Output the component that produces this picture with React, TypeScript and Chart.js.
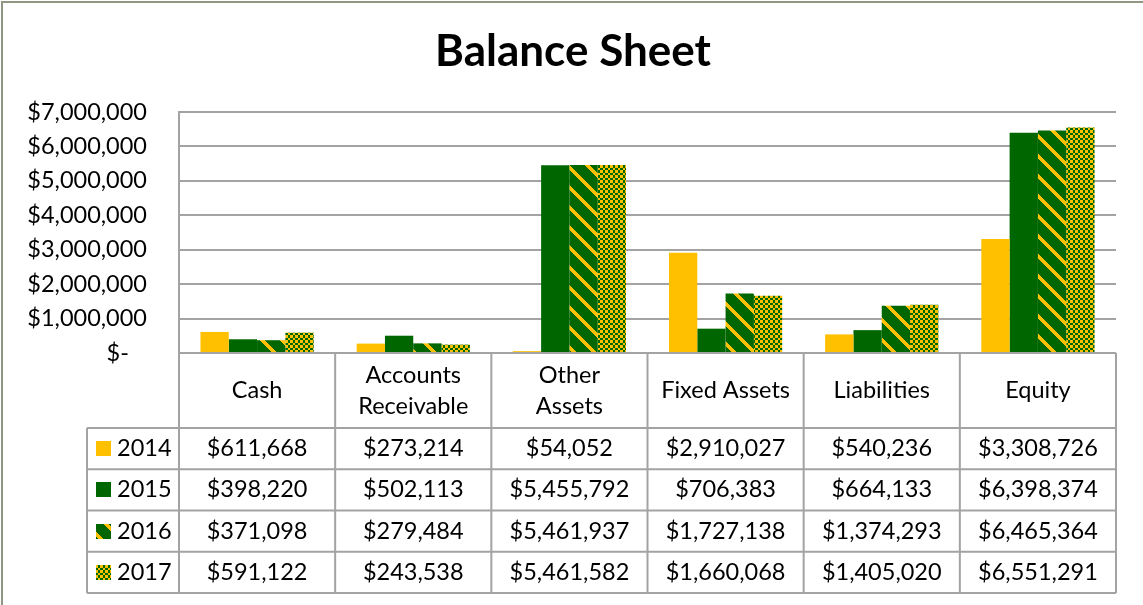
import React, { useEffect, useRef } from 'react';
import { Chart, registerables } from 'chart.js';

Chart.register(...registerables);

const chartTitle = 'Balance Sheet';
const categories: (string | string[])[] = [
  'Cash',
  ['Accounts', 'Receivable'],
  ['Other', 'Assets'],
  'Fixed Assets',
  'Liabilities',
  'Equity',
];
const seriesNames = ['2014', '2015', '2016', '2017'];
const values2014 = [611668, 273214, 54052, 2910027, 540236, 3308726];
const values2015 = [398220, 502113, 5455792, 706383, 664133, 6398374];
const values2016 = [371098, 279484, 5461937, 1727138, 1374293, 6465364];
const values2017 = [591122, 243538, 5461582, 1660068, 1405020, 6551291];
const yTicks = [0, 1000000, 2000000, 3000000, 4000000, 5000000, 6000000, 7000000];

const YELLOW = '#FFC000';
const GREEN = '#006600';
const FONT = 'Lato, "Open Sans", sans-serif';
const LINE = '#a3a3a3';
const TEXT_SIZE = 23.5;

function fmtMoney(v: number): string {
  return '$' + String(Math.round(v)).replace(/\B(?=(\d{3})+(?!\d))/g, ',');
}

function makeTile(s: number, isYellow: (x: number, y: number) => boolean): CanvasPattern | string {
  const c = document.createElement('canvas');
  c.width = s;
  c.height = s;
  const g = c.getContext('2d');
  if (!g) return GREEN;
  const img = g.createImageData(s, s);
  for (let y = 0; y < s; y++) {
    for (let x = 0; x < s; x++) {
      const i = (y * s + x) * 4;
      if (isYellow(x, y)) {
        img.data[i] = 255; img.data[i + 1] = 192; img.data[i + 2] = 0;
      } else {
        img.data[i] = 0; img.data[i + 1] = 102; img.data[i + 2] = 0;
      }
      img.data[i + 3] = 255;
    }
  }
  g.putImageData(img, 0, 0);
  return g.createPattern(c, 'repeat') || GREEN;
}

function makeStripe() {
  return makeTile(20, (x, y) => ((x - y + 400) % 20) < 5);
}

function makeCheck() {
  const idx = (v: number) => (v < 3 ? 0 : v < 5 ? 1 : v < 8 ? 2 : 3);
  return makeTile(10, (x, y) => (idx(x) + idx(y)) % 2 === 0);
}

export default function App() {
  const ref = useRef<HTMLCanvasElement | null>(null);

  useEffect(() => {
    document.body.style.margin = '0';
    let chart: Chart | null = null;
    let cancelled = false;

    const build = () => {
      if (cancelled || !ref.current) return;
      const stripe = makeStripe();
      const check = makeCheck();
      const fills: (string | CanvasPattern)[] = [YELLOW, GREEN, stripe, check];
      const allValues = [values2014, values2015, values2016, values2017];

      const tablePlugin = {
        id: 'dataTable',
        beforeDraw(c: any) {
          const ctx = c.ctx as CanvasRenderingContext2D;
          ctx.save();
          ctx.fillStyle = '#ffffff';
          ctx.fillRect(0, 0, c.width, c.height);
          ctx.fillStyle = '#8f9783';
          ctx.fillRect(1, 1, c.width - 1, 2);
          ctx.fillRect(1, 1, 2, c.height - 1);
          ctx.restore();
        },
        afterDraw(c: any) {
          const ctx = c.ctx as CanvasRenderingContext2D;
          const area = c.chartArea;
          const xs = c.scales.x;
          const n = categories.length;
          const colW = (area.right - area.left) / n;
          const top = area.bottom;
          const headerBottom = top + 75;
          const tableBottom = 593;
          const rowH = (tableBottom - headerBottom) / seriesNames.length;
          const legendLeft = 87;

          ctx.save();
          // title
          ctx.fillStyle = '#000';
          ctx.font = `bold 44px ${FONT}`;
          ctx.textAlign = 'center';
          ctx.textBaseline = 'middle';
          ctx.fillText(chartTitle, 573, 52);

          // table lines
          ctx.strokeStyle = LINE;
          ctx.lineWidth = 2;
          ctx.beginPath();
          ctx.moveTo(area.left, top);
          ctx.lineTo(area.right, top);
          for (let r = 0; r <= seriesNames.length; r++) {
            const y = headerBottom + r * rowH;
            ctx.moveTo(legendLeft, y);
            ctx.lineTo(area.right, y);
          }
          for (let i = 0; i <= n; i++) {
            const x = i < n ? xs.getPixelForValue(i) - colW / 2 : xs.getPixelForValue(n - 1) + colW / 2;
            ctx.moveTo(x, top);
            ctx.lineTo(x, tableBottom);
          }
          ctx.moveTo(legendLeft, headerBottom);
          ctx.lineTo(legendLeft, tableBottom);
          ctx.stroke();

          // header labels
          ctx.fillStyle = '#000';
          ctx.font = `${TEXT_SIZE}px ${FONT}`;
          ctx.textAlign = 'center';
          ctx.textBaseline = 'middle';
          const headMid = (top + headerBottom) / 2;
          categories.forEach((cat, i) => {
            const cx = xs.getPixelForValue(i);
            const lines = Array.isArray(cat) ? cat : [cat];
            const lh = 31;
            lines.forEach((ln, k) => {
              const y = headMid + (k - (lines.length - 1) / 2) * lh;
              ctx.fillText(ln, cx, y);
            });
          });

          // rows
          seriesNames.forEach((name, r) => {
            const cy = headerBottom + r * rowH + rowH / 2;
            ctx.fillStyle = fills[r] as any;
            ctx.fillRect(96, Math.round(cy - 7.5), 15, 15);
            ctx.fillStyle = '#000';
            ctx.textAlign = 'left';
            ctx.fillText(name, 117, cy);
            ctx.textAlign = 'center';
            allValues[r].forEach((v, i) => {
              ctx.fillText(fmtMoney(v), xs.getPixelForValue(i), cy);
            });
          });
          ctx.restore();
        },
      };

      chart = new Chart(ref.current, {
        type: 'bar',
        data: {
          labels: categories as any,
          datasets: seriesNames.map((name, r) => ({
            label: name,
            data: allValues[r],
            backgroundColor: fills[r] as any,
            borderWidth: 0,
            categoryPercentage: 0.725,
            barPercentage: 1,
          })),
        },
        options: {
          responsive: false,
          animation: false,
          devicePixelRatio: 1,
          layout: { padding: { left: 0, right: 27, top: 112, bottom: 252 } },
          plugins: {
            legend: { display: false },
            title: { display: false },
            tooltip: { enabled: false },
          },
          scales: {
            x: {
              display: false,
              offset: true,
              grid: { display: false },
            },
            y: {
              min: 0,
              max: 7000000,
              afterFit: (s: any) => { s.width = 179; },
              afterBuildTicks: (s: any) => { s.ticks = yTicks.map((v) => ({ value: v })); },
              ticks: {
                color: '#000',
                font: { family: FONT, size: TEXT_SIZE },
                padding: 32,
                callback: (v: any) => (Number(v) === 0 ? '$-   ' : fmtMoney(Number(v))),
              },
              grid: { color: LINE, lineWidth: 2, drawTicks: false },
              border: { display: true, color: LINE, width: 2 },
            },
          },
        },
        plugins: [tablePlugin],
      });
    };

    const fontsReady = (document as any).fonts
      ? Promise.all([
          (document as any).fonts.load(`${TEXT_SIZE}px Lato`),
          (document as any).fonts.load(`bold 44px Lato`),
        ]).catch(() => null)
      : Promise.resolve(null);
    fontsReady.then(build);

    return () => {
      cancelled = true;
      if (chart) chart.destroy();
    };
  }, []);

  return (
    <div style={{ width: 1143, height: 605, position: 'relative', overflow: 'hidden' }}>
      <canvas ref={ref} width={1143} height={605} style={{ display: 'block', width: 1143, height: 605 }} />
    </div>
  );
}
